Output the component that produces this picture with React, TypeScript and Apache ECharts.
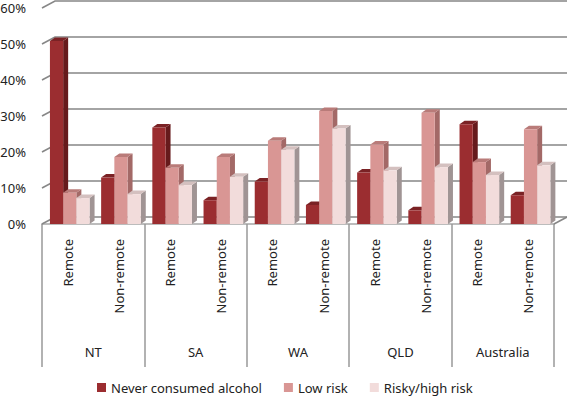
import React, { useEffect, useRef } from 'react';
import * as echarts from 'echarts';

const groups = ['NT', 'SA', 'WA', 'QLD', 'Australia'];
const subCategories = [
  'Remote', 'Non-remote', 'Remote', 'Non-remote', 'Remote',
  'Non-remote', 'Remote', 'Non-remote', 'Remote', 'Non-remote',
];
const seriesNames = ['Never consumed alcohol', 'Low risk', 'Risky/high risk'];
const neverConsumed = [50.8, 12.9, 26.8, 6.6, 11.8, 5.3, 14.3, 3.8, 27.7, 8.0];
const lowRisk = [8.7, 18.6, 15.6, 18.6, 23.1, 31.4, 22.1, 30.9, 17.2, 26.3];
const riskyHighRisk = [7.2, 8.3, 10.8, 13.1, 20.6, 26.5, 14.9, 15.8, 13.6, 16.3];
const yTicks = [0, 10, 20, 30, 40, 50, 60];

const frontColors = ['#9b2d30', '#d99694', '#f2dcdb'];
const topColors = ['#7a2225', '#b97b79', '#d4c0bf'];
const sideColors = ['#661a1c', '#a36967', '#a09494'];

const DX_BAR = 5;
const DY_BAR = 3.5;
const DX_WALL = 13;
const DY_WALL = 7;
const BAR_FRAC = 0.258;
const BAR_START = -0.345;
const FONT = 'Noto Sans';

const GRID = { left: 42, right: 13, top: 8, bottom: 175, outerBoundsMode: 'none' };

function barRenderer(s: number) {
  return (params: any, api: any) => {
    const idx = api.value(0);
    const v = api.value(1);
    const pTop = api.coord([idx, v]);
    const pBot = api.coord([idx, 0]);
    const band = api.size([1, 0])[0];
    const w = band * BAR_FRAC;
    const x1 = pTop[0] + band * (BAR_START + s * BAR_FRAC);
    const x2 = x1 + w;
    const yT = pTop[1];
    const yB = pBot[1];
    return {
      type: 'group',
      children: [
        {
          type: 'polygon',
          shape: { points: [[x2, yT], [x2 + DX_BAR, yT - DY_BAR], [x2 + DX_BAR, yB - DY_BAR], [x2, yB]] },
          style: { fill: sideColors[s] },
        },
        {
          type: 'polygon',
          shape: { points: [[x1, yT], [x1 + DX_BAR, yT - DY_BAR], [x2 + DX_BAR, yT - DY_BAR], [x2, yT]] },
          style: { fill: topColors[s] },
        },
        {
          type: 'rect',
          shape: { x: x1, y: yT, width: w, height: yB - yT },
          style: { fill: frontColors[s] },
        },
      ],
    };
  };
}

function wallRenderer(params: any, api: any) {
  const v = api.value(1);
  const y = api.coord([0, v])[1];
  const x0 = params.coordSys.x;
  const xe = x0 + params.coordSys.width;
  const children: any[] = [
    {
      type: 'polyline',
      shape: { points: [[x0, y], [x0 + DX_WALL, y - DY_WALL], [xe + DX_WALL, y - DY_WALL]] },
      style: { stroke: '#878787', lineWidth: 1.6, fill: 'none' },
    },
  ];
  if (v === 0) {
    children.push({
      type: 'line',
      shape: { x1: xe, y1: y, x2: xe + DX_WALL, y2: y - DY_WALL },
      style: { stroke: '#878787', lineWidth: 1.6 },
    });
  }
  return { type: 'group', children };
}

export default function App() {
  const ref = useRef<HTMLDivElement>(null);
  useEffect(() => {
    if (!ref.current) return;
    const chart = echarts.init(ref.current, null, { renderer: 'svg' });
    const valueSets = [neverConsumed, lowRisk, riskyHighRisk];
    chart.setOption({
      animation: false,
      backgroundColor: '#ffffff',
      textStyle: { fontFamily: FONT },
      legend: {
        data: seriesNames,
        left: 97,
        top: 381,
        padding: 0,
        icon: 'rect',
        itemWidth: 9,
        itemHeight: 9,
        itemGap: 22,
        textStyle: { fontFamily: FONT, fontSize: 13, color: '#222' },
      },
      grid: [GRID, GRID],
      xAxis: [
        {
          type: 'category',
          gridIndex: 0,
          data: subCategories,
          axisLine: { show: true, lineStyle: { color: '#a6a6a6', width: 1.5 } },
          axisTick: { show: false },
          axisLabel: { rotate: 90, margin: 15, fontFamily: FONT, fontSize: 13, color: '#222', interval: 0 },
          splitLine: { show: false },
        },
        {
          type: 'category',
          gridIndex: 1,
          data: groups,
          axisLine: { show: false },
          axisTick: { show: true, length: 143, lineStyle: { color: '#999999', width: 1.5 } },
          axisLabel: { margin: 121, fontFamily: FONT, fontSize: 13, color: '#222', interval: 0 },
          splitLine: { show: false },
        },
      ],
      yAxis: [
        {
          type: 'value',
          gridIndex: 0,
          min: 0,
          max: 60,
          interval: 10,
          axisLine: { show: false },
          axisTick: { show: false },
          splitLine: { show: false },
          axisLabel: {
            formatter: '{value}%',
            margin: 16,
            fontFamily: FONT,
            fontSize: 13,
            color: '#222',
            padding: [6, 0, 0, 0],
          },
        },
        { type: 'value', gridIndex: 1, min: 0, max: 60, show: false },
      ],
      series: [
        {
          type: 'custom',
          xAxisIndex: 0,
          yAxisIndex: 0,
          silent: true,
          z: 1,
          renderItem: wallRenderer,
          data: yTicks.map((v) => [0, v]),
          encode: { x: 0, y: 1 },
        },
        ...valueSets.map((vals, s) => ({
          type: 'custom',
          name: seriesNames[s],
          xAxisIndex: 0,
          yAxisIndex: 0,
          z: 2 + s,
          itemStyle: { color: frontColors[s] },
          renderItem: barRenderer(s),
          data: vals.map((v, i) => [i, v]),
          encode: { x: 0, y: 1 },
        })),
      ],
    });
    return () => chart.dispose();
  }, []);
  return (
    <div
      ref={ref}
      style={{ position: 'fixed', left: 0, top: 0, width: 567, height: 399, background: '#fff' }}
    />
  );
}
